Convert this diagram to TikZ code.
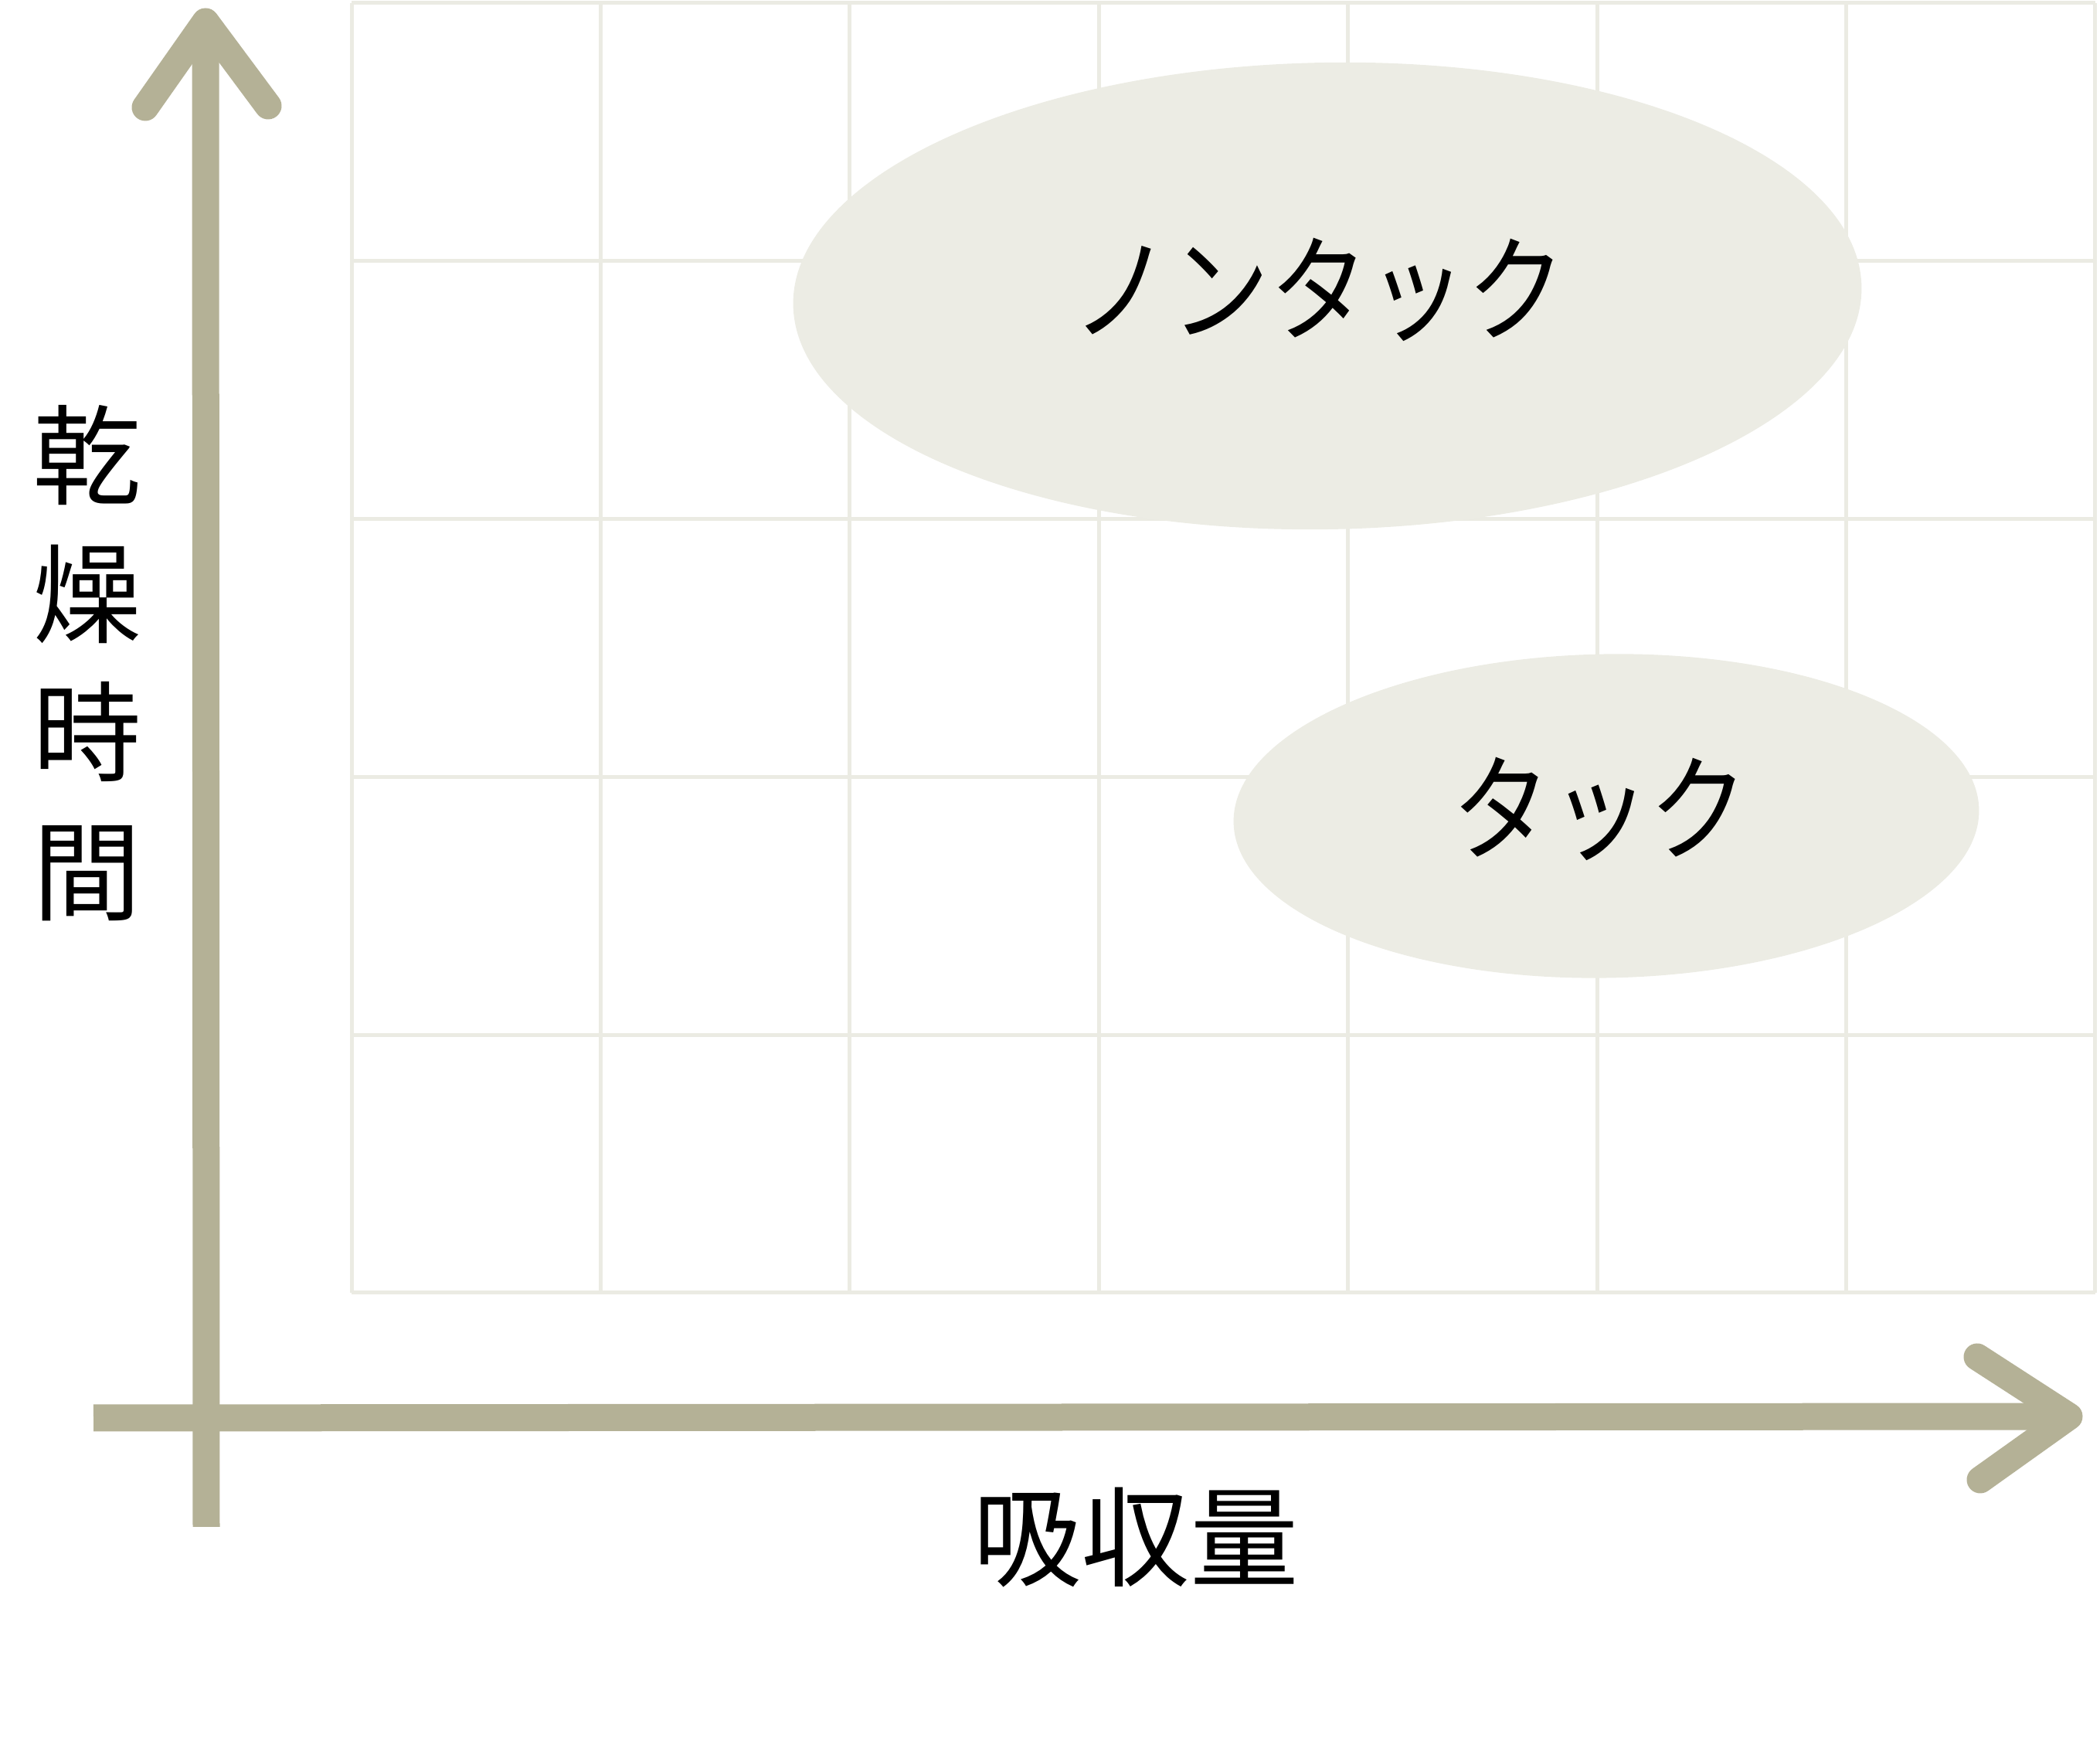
\documentclass[tikz,border=0pt]{standalone}
\usepackage{fontspec}
\setmainfont{Noto Sans CJK JP}
\usetikzlibrary{shapes.geometric}
\definecolor{axisgray}{RGB}{180,177,150}
\definecolor{gridgray}{RGB}{235,235,227}
\definecolor{blobfill}{RGB}{236,236,228}
\begin{document}
\begin{tikzpicture}[axis/.style = {draw=axisgray, line width=0.35cm},
        tip/.style = {axis, line cap=round, line join=round},
        blob/.style = {ellipse, fill=blobfill, inner sep=0pt},
        label/.style = {font=\fontsize{40}{51}\selectfont, inner sep=0pt},
        kana/.style = {label, xscale=0.91, yscale=1.07, transform shape}]
            \useasboundingbox (0,0) rectangle (27.18,22.75);
            % grid
            \foreach \i in {0,...,7}
                \draw[gridgray, line width=0.05cm] (4.55+3.224*\i,6.02) -- (4.55+3.224*\i,22.71);
            \foreach \j in {0,...,5}
                \draw[gridgray, line width=0.05cm] (4.55,6.02+3.338*\j) -- (27.12,6.02+3.338*\j);
            % regions
            \node[blob, minimum width=13.83cm, minimum height=6.04cm, rotate=1] (big) at (17.18,18.92) {};
            \node[blob, minimum width=9.65cm, minimum height=4.19cm, rotate=1] (small) at (20.79,12.19) {};
            \node[kana] (nontack) at (17.07,19.00) {ノンタック};
            \node[kana] (tack) at (20.71,12.28) {タック};
            % axes
            \coordinate (ybot) at (2.67,2.99);
            \coordinate (ytop) at (2.66,22.47);
            \coordinate (yl) at (1.88,21.36);
            \coordinate (yr) at (3.47,21.38);
            \coordinate (xleft) at (1.21,4.40);
            \coordinate (xtip) at (26.78,4.42);
            \coordinate (xu) at (25.59,5.19);
            \coordinate (xd) at (25.63,3.60);
            \draw[axis] (ybot) -- (ytop);
            \draw[tip] (yl) -- (ytop) -- (yr);
            \draw[axis] (xleft) -- (xtip);
            \draw[tip] (xu) -- (xtip) -- (xd);
            \node[label, align=center] (ylabel) at (1.13,14.17) {乾\\燥\\時\\間};
            \node[label] (xlabel) at (14.70,2.85) {吸収量};
        \end{tikzpicture}
\end{document}
